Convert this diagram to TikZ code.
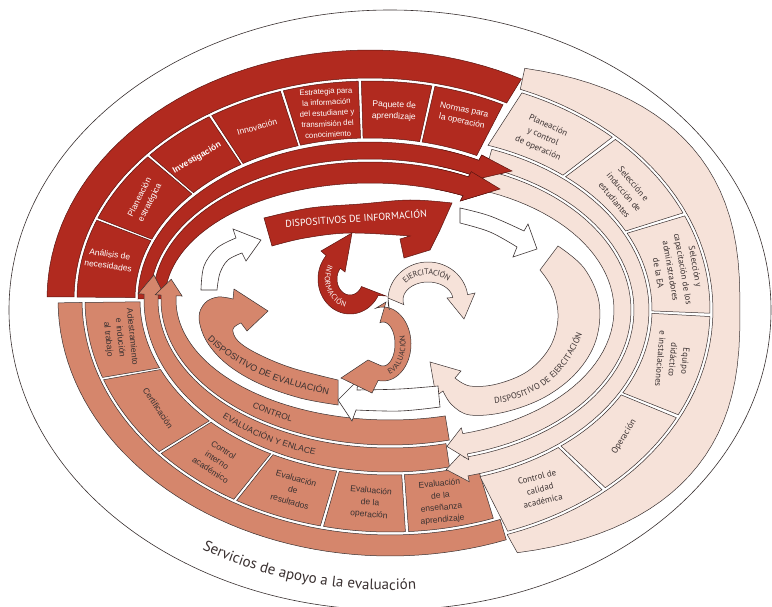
\documentclass[tikz,border=0pt]{standalone}
\usepackage{fontspec}
\setmainfont{Liberation Sans}
\newfontfamily\cond{PT Sans}
\usetikzlibrary{decorations.text}
\definecolor{rojo}{HTML}{B12A1F}
\definecolor{salm}{HTML}{D5866C}
\definecolor{rosa}{HTML}{F6E2D9}
\definecolor{linea}{HTML}{3A3131}
\definecolor{rojol}{HTML}{5A1410}
\tikzset{
  declare function={
    spx(\p,\q)=cos(\p)*(abs(cos(\p))+0.0001)^(\q-1);
    spy(\p,\q)=sin(\p)*(abs(sin(\p))+0.0001)^(\q-1);
  },
  rojof/.style={fill=rojo,draw=rojol,line width=0.5pt},
  salmf/.style={fill=salm,draw=linea,line width=0.5pt},
  rosaf/.style={fill=rosa,draw=linea,line width=0.5pt},
  blancof/.style={fill=white,draw=linea,line width=0.6pt},
  rlab/.style={text=white,font=\fontsize{8.5}{11.5}\selectfont,align=center,inner sep=0pt},
  plab/.style={text=linea,font=\cond\fontsize{8.8}{12.5}\selectfont,align=center,inner sep=0pt},
  slab/.style={text=linea,font=\fontsize{8.5}{12}\selectfont,align=center,inner sep=0pt},
}
\newcommand\Edg[5]{plot[domain=0:1,samples=50] ({\CX+(#1)*spx((#4)+((#5)-(#4))*\x,#3)},{\CY+(#2)*spy((#4)+((#5)-(#4))*\x,#3)})}
\newcommand\EdgL[5]{-- plot[domain=0:1,samples=50] ({\CX+(#1)*spx((#4)+((#5)-(#4))*\x,#3)},{\CY+(#2)*spy((#4)+((#5)-(#4))*\x,#3)})}
\newcommand\EptL[4]{-- ({\CX+(#1)*spx(#4,#3)},{\CY+(#2)*spy(#4,#3)})}
\def\CX{0}\def\CY{0}
\begin{document}
\begin{tikzpicture}[x=1pt,y=-1pt]
\useasboundingbox (0,0) rectangle (772,607);
\fill[white] (0,0) rectangle (772,607);
\draw[linea,line width=.6pt] (390,310) ellipse [x radius=381, y radius=300];

% ---------- RED ring ----------
\def\CX{370}\def\CY{299}
\filldraw[rojof] \Edg{323}{249}{1}{180.5}{298} \EdgL{296}{221}{1}{297.5}{180.5} -- cycle;
\foreach \oa/\ob in {180.5/201.2,201.8/220.7,221.3/236.7,237.3/252.2,252.8/267.7,268.3/282.2,282.8/297}
  {\filldraw[rojof] \Edg{293}{218}{1}{\oa}{\ob} \EdgL{235}{161}{1}{\ob}{\oa} -- cycle;}

% ---------- SALMON ring ----------
\def\CX{390}\def\CY{300}
\filldraw[salmf] \Edg{332}{256}{1}{69.5}{179.4} \EdgL{308}{235}{1}{179.4}{69} -- cycle;
\foreach \oa/\ob/\ia/\ib in {70.2/86.5/69.7/86.7, 87.1/102.6/87.3/101.7, 103.2/120.2/102.3/117.9, 120.8/138.6/118.5/135.7, 139.2/159.9/136.3/156.6, 160.5/179.4/157.2/179.4}
  {\filldraw[salmf] \Edg{305}{232}{1}{\oa}{\ob} \EdgL{250}{175}{1}{\ib}{\ia} -- cycle;}

% ---------- PINK ring ----------
\def\CX{410}\def\CY{310}
\filldraw[rosaf] \Edg{330}{248}{0.77}{-75.3}{76.6} \EdgL{303}{237}{1}{71.3}{-68.7} -- cycle;
\foreach \oa/\ob/\ia/\ib in {-68.1/-47.6/-71.2/-50.8, -46.8/-24.5/-50/-27, -23.7/0.8/-26.2/0.3, 1.6/26.6/1.1/28.4, 27.4/49.4/29.2/51.4, 50.2/71/52.2/73.2}
  {\filldraw[rosaf] \Edg{300}{234}{1}{\oa}{\ob} \EdgL{242}{174}{1}{\ib}{\ia} -- cycle;}

% ---------- flow bands ----------
\def\CX{370}\def\CY{299}
\filldraw[rojof] \Edg{232}{157}{1}{180}{298} \EptL{238}{163}{1}{298} -- (512,171) \EptL{214}{134}{1}{298} \EdgL{220}{140}{1}{298}{180} -- cycle;
\filldraw[rojof] \Edg{217}{137}{1}{180}{297} \EptL{223}{143}{1}{297} -- (500,189) \EptL{199}{110}{1}{297} \EdgL{205}{116}{1}{297}{180} -- cycle;
\def\CX{390}\def\CY{300}
\filldraw[salmf] \Edg{246}{172}{1}{76}{182} \EptL{252}{178}{1}{182} \EptL{239}{160}{1}{189} \EptL{226}{142}{1}{182} \EdgL{232}{148}{1}{182}{76} -- cycle;
\filldraw[salmf] \Edg{229}{145}{1}{75}{182} \EptL{235}{151}{1}{182} \EptL{221.5}{132.5}{1}{189} \EptL{208}{114}{1}{182} \EdgL{214}{120}{1}{182}{75} -- cycle;
\def\CX{410}\def\CY{310}
\filldraw[rosaf] \Edg{239}{171}{1}{-70}{76} \EptL{245}{177}{1}{76} \EptL{231.5}{161.5}{1}{81} \EptL{218}{146}{1}{76} \EdgL{224}{152}{1}{76}{-70} -- cycle;
\filldraw[rosaf] \Edg{221}{149}{1}{-70}{75} \EptL{227}{155}{1}{75} \EptL{212.5}{138.5}{1}{80} \EptL{198}{122}{1}{75} \EdgL{204}{128}{1}{75}{-70} -- cycle;
% red heads over the pink band starts
\def\CX{370}\def\CY{299}
\fill[rojo] \Edg{232}{157}{1}{288}{298} \EptL{238}{163}{1}{298} -- (512,171) \EptL{214}{134}{1}{298} \EdgL{220}{140}{1}{298}{288} -- cycle;
\draw[rojol,line width=.5pt] \Edg{232}{157}{1}{288}{298} \EptL{238}{163}{1}{298} -- (512,171) \EptL{214}{134}{1}{298} \EdgL{220}{140}{1}{298}{288};
\fill[rojo] \Edg{217}{137}{1}{288}{297} \EptL{223}{143}{1}{297} -- (500,189) \EptL{199}{110}{1}{297} \EdgL{205}{116}{1}{297}{288} -- cycle;
\draw[rojol,line width=.5pt] \Edg{217}{137}{1}{288}{297} \EptL{223}{143}{1}{297} -- (500,189) \EptL{199}{110}{1}{297} \EdgL{205}{116}{1}{297}{288};

% ---------- dispositivos ----------
\filldraw[rojof] plot[smooth,tension=.6] coordinates {(264,218) (310,208) (360,204) (410,200) (452,203)} -- (440,230) -- (430,250) -- (404,258) -- (400,239) -- (410,236) -- plot[smooth,tension=.6] coordinates {(410,236) (350,233) (305,238) (272,246)} -- cycle;
\filldraw[rosaf] (540,270) -- (558,246) -- plot[smooth,tension=.6] coordinates {(558,246) (584,268) (599,302) (596,340) (577,372) (545,397) (505,412) (470,415) (452,405) (443,391)} -- (436,396) -- (430,362) -- (461,371) -- (455,378) -- plot[smooth,tension=.6] coordinates {(455,378) (470,386) (497,384) (528,371) (550,347) (558,318) (553,290) (540,270)} -- cycle;
\filldraw[salmf] (338,380) -- (338,405) -- plot[smooth,tension=.6] coordinates {(338,405) (300,398) (260,384) (228,365) (207,342) (199,318) (205,303) (218,297) (233,299)} -- (234,289) -- (268,311) -- (247,331) -- (241,323) -- plot[smooth,tension=.6] coordinates {(241,323) (233,329) (238,341) (258,354) (292,368) (338,380)} -- cycle;

% ---------- white arrows ----------
\filldraw[blancof] plot[smooth,tension=.6] coordinates {(201,290) (204,266) (217,248) (236,238)} -- (233,229) -- (261,240) -- (246,261) -- (242,253) -- plot[smooth,tension=.6] coordinates {(242,253) (228,260) (220,273) (217,290)} -- cycle;
\filldraw[blancof] plot[smooth,tension=.6] coordinates {(460,208) (490,216) (524,231)} -- (528,224) -- (537,249) -- (513,257) -- (517,247) -- plot[smooth,tension=.6] coordinates {(517,247) (490,232) (460,223)} -- cycle;
\filldraw[blancof] plot[smooth,tension=.6] coordinates {(438,386) (400,389) (357,390)} -- (358,380) -- (338,400) -- (352,421) -- (356,410) -- plot[smooth,tension=.6] coordinates {(356,410) (400,411) (440,407)} -- cycle;

% ---------- central triskelion ----------
\def\CX{383}\def\CY{344}
\filldraw[salmf] (386,302) \EdgL{28}{37}{1}{-105}{100} -- (372,393) -- (341,378) -- (368,360) \EdgL{12}{22}{1}{100}{-105} -- cycle;
\path[decorate,decoration={text along path,text align=center,raise=-2.6pt,text={|\cond\fontsize{7.5}{9}\selectfont\color{linea}|EVALUACIÓN}}] \Edg{20}{29.5}{1}{100}{-35};
\def\CX{428}\def\CY{300}
\filldraw[rosaf] (388,298) \EdgL{40}{38}{1}{165}{352} -- (475,293) -- (464,319) -- (447,298) \EdgL{25}{18}{1}{352}{165} -- cycle;
\path[decorate,decoration={text along path,text align=center,raise=-2.8pt,text={|\cond\fontsize{8}{9}\selectfont\color{linea}|EJERCITACIÓN}}] \Edg{32.5}{28}{1}{188}{345};
\def\CX{350}\def\CY{279}
\filldraw[rojof] \Edg{32}{35}{1}{28}{222} -- (321,251) -- (352,233) -- (345,272) \EdgL{13}{16}{1}{222}{28} -- (386,296) -- cycle;
\path[decorate,decoration={text along path,text align=center,raise=-2.6pt,text={|\cond\fontsize{7.5}{9}\selectfont\color{white}|INFORMACIÓN}}] \Edg{22.5}{25.5}{1}{232}{78};

% ---------- texts ----------
\node[text=white,font=\cond\fontsize{10}{12}\selectfont,rotate=4,inner sep=0pt] (d1) at (356,218) {DISPOSITIVOS DE INFORMACIÓN};
\path[decorate,decoration={text along path,text align=center,raise=-3pt,text={|\fontsize{9}{10}\selectfont\color{linea}|DISPOSITIVO DE EVALUACIÓN}}] (200,328) -- (210,338) -- (222,349) -- (236,358) -- (250,366) -- (265,373) -- (280,379) -- (300,385) -- (320,390) -- (342,395);
\path[decorate,decoration={text along path,text align=center,raise=-3pt,text={|\cond\fontsize{8.5}{10}\selectfont\color{linea}|DISPOSITIVO DE EJERCITACIÓN}}] (452,404) -- (480,402) -- (505,399) -- (524,393) -- (541,385) -- (555,373) -- (567,358) -- (576,342) -- (583,325) -- (587,310) -- (588,292);
\def\CX{390}\def\CY{300}
\path[decorate,decoration={text along path,text align=center,raise=-3pt,text={|\fontsize{8.5}{10}\selectfont\color{linea}|CONTROL}}] \Edg{221.5}{132.5}{1}{135}{110};
\path[decorate,decoration={text along path,text align=center,raise=-3pt,text={|\fontsize{8.5}{10}\selectfont\color{linea}|EVALUACIÓN Y ENLACE}}] \Edg{239}{160}{1}{150}{95};
\def\CX{390}\def\CY{310}
\path[decorate,decoration={text along path,text align=center,text={|\cond\fontsize{15}{18}\selectfont\color{linea}|Servicios de apoyo a la evaluación}}] \Edg{362}{280}{1}{134}{74};

\node[rlab,rotate=-8] (t1) at (109,260) {Análisis de\\necesidades};
\node[rlab,rotate=63] (t2) at (145,200) {Planeación\\estratégica};
\node[rlab,rotate=30,font=\bfseries\fontsize{8.5}{10}\selectfont] (t3) at (197,158) {Investigación};
\node[rlab,rotate=16] (t4) at (257,127) {Innovación};
\node[rlab,rotate=3,font=\fontsize{7.8}{10.8}\selectfont] (t5) at (327,113) {Estrategia para\\la información\\del estudiante y\\transmisión del\\conocimiento};
\node[rlab,rotate=-2] (t6) at (394,111) {Paquete de\\aprendizaje};
\node[rlab,rotate=-12] (t7) at (463,116) {Normas para\\la operación};

\node[plab,rotate=-24] (p1) at (543,137) {Planeación\\y control\\de operación};
\node[plab,rotate=-50] (p2) at (624,192) {Selección e\\inducción de\\estudiantes};
\node[plab,rotate=-80] (p3) at (677,270) {Selección y\\capacitación de los\\administradores\\de la EA};
\node[plab,rotate=-95] (p4) at (673,360) {Equipo\\didáctico\\e instalaciones};
\node[plab,rotate=58] (p5) at (624,437) {Operación};
\node[plab,rotate=14] (p6) at (540,489) {Control de\\calidad\\académica};

\node[slab,rotate=-84] (s1) at (120,338) {Adiestramiento\\e indución\\al trabajo};
\node[slab,rotate=-56] (s2) at (158,408) {Certificación};
\node[slab,rotate=-33] (s3) at (217,460) {Control\\interno\\académico};
\node[slab,rotate=-16] (s4) at (293,490) {Evaluación\\de\\resultados};
\node[slab,rotate=-5] (s5) at (370,503) {Evaluación\\de la\\operación};
\node[slab,rotate=5] (s6) at (441,502) {Evaluación\\de la\\enseñanza\\aprendizaje};
\end{tikzpicture}
\end{document}
